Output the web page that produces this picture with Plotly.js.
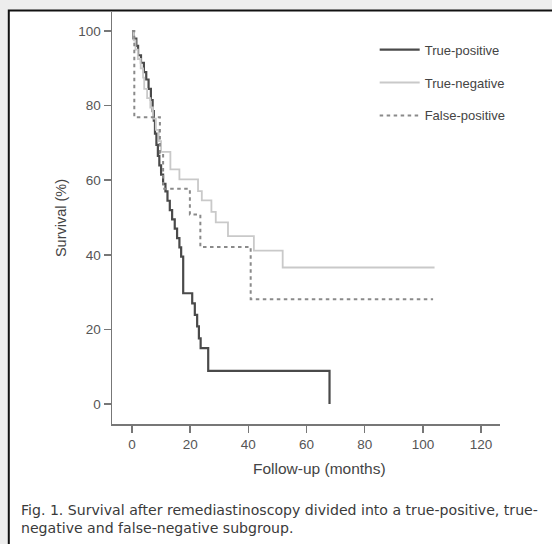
<!DOCTYPE html>
<html>
<head>
<meta charset="utf-8">
<script src="https://cdn.plot.ly/plotly-3.0.1.min.js"></script>
<style>
  html, body { margin: 0; padding: 0; background: #ededed; }
  #chart { width: 552px; height: 544px; }
</style>
</head>
<body>
<div id="chart"></div>
<script>
// ---- Data ----
const seriesNames = ["True-positive", "True-negative", "False-positive"];

// True-positive
const tpMonths = [0, 0.5, 1.5, 2.1, 3.1, 4.1, 4.9, 5.7, 6.5, 7.1, 7.5, 7.9, 8.4, 8.9, 9.4, 10.0, 10.7, 11.5, 12.2, 13.0, 13.8, 14.7, 15.5, 16.3, 16.9, 17.6, 20.7, 21.6, 22.4, 23.0, 23.6, 26.2, 67.9];
const tpSurv   = [100, 98, 96, 93.5, 91.5, 89, 87, 84.5, 81.5, 78.5, 76, 72.5, 69.5, 66.5, 64, 61.5, 59, 57, 54.5, 52, 49.5, 47, 44.5, 42, 39.5, 29.7, 27.0, 23.9, 20.8, 17.6, 15.0, 8.9, 0];

// True-negative
const tnMonths = [0, 0.6, 1.2, 2.0, 3.0, 3.8, 4.2, 5.2, 6.3, 7.2, 8.2, 9.2, 10.0, 13.2, 16.3, 22.7, 24.0, 27.3, 28.8, 33.0, 41.9, 51.8, 104];
const tnSurv   = [100, 97.5, 95, 92.5, 90, 87.5, 84.5, 82, 79.5, 76.5, 73.5, 70.5, 67.6, 62.9, 60.2, 57.1, 54.6, 51.5, 48.7, 45.0, 41.1, 36.6, 36.6];

// False-positive
const fpMonths = [0, 0.8, 9.6, 10.7, 19.9, 23.5, 40.8, 103.5];
const fpSurv   = [100, 76.9, 67.3, 57.7, 50.8, 42.1, 28.1, 28.1];

const xTicks = [0, 20, 40, 60, 80, 100, 120];
const yTicks = [0, 20, 40, 60, 80, 100];

const xTitle = "Follow-up (months)";
const yTitle = "Survival (%)";
const caption = "Fig. 1. Survival after remediastinoscopy divided into a true-positive, true-<br>negative and false-negative subgroup.";

// ---- Traces ----
const traces = [
  { x: tpMonths, y: tpSurv, name: seriesNames[0], legendgroup: "a", mode: "lines",
    line: { shape: "hv", color: "#4a4a4a", width: 2.2 } },
  { x: tnMonths, y: tnSurv, name: seriesNames[1], legendgroup: "b", mode: "lines",
    line: { shape: "hv", color: "#c9c9c9", width: 1.8 } },
  { x: fpMonths, y: fpSurv, name: seriesNames[2], legendgroup: "c", mode: "lines",
    line: { shape: "hv", color: "#8a8a8a", width: 2, dash: "3.5px,3.5px" } }
];

const axisFont = { family: "Liberation Sans, Arial, sans-serif", size: 13.5, color: "#555" };

const layout = {
  width: 552, height: 544,
  margin: { l: 112, r: 52, t: 12, b: 120 },
  paper_bgcolor: "#ededed",
  plot_bgcolor: "rgba(0,0,0,0)",
  showlegend: true,
  legend: {
    x: 0.677, y: 0.945, xanchor: "left", yanchor: "top",
    bgcolor: "rgba(0,0,0,0)", borderwidth: 0,
    font: { family: "Liberation Sans, Arial, sans-serif", size: 13, color: "#444" },
    traceorder: "grouped", tracegroupgap: 13, itemwidth: 40
  },
  xaxis: {
    range: [-6.87, 126.5], tickvals: xTicks, ticks: "outside", ticklen: 7, tickwidth: 1.5,
    tickcolor: "#777", showline: true, linecolor: "#777", linewidth: 1.5,
    showgrid: false, zeroline: false, tickfont: axisFont, fixedrange: true
  },
  yaxis: {
    range: [-5.36, 105.1], tickvals: yTicks, ticks: "outside", ticklen: 7, tickwidth: 1.5,
    tickcolor: "#777", showline: true, linecolor: "#777", linewidth: 1.5,
    showgrid: false, zeroline: false, tickfont: axisFont, fixedrange: true,
    title: { text: yTitle, standoff: 8, font: { family: "Liberation Sans, Arial, sans-serif", size: 14.5, color: "#444" } }
  },
  shapes: [
    { type: "rect", xref: "paper", yref: "paper", x0: -0.266, x1: 2, y0: -1, y1: 1.0034,
      line: { color: "#111", width: 2 }, fillcolor: "#ffffff", layer: "below" }
  ],
  annotations: [
    { text: xTitle, xref: "paper", yref: "paper", x: 0.536, y: -0.109, xanchor: "center", yanchor: "middle",
      showarrow: false, font: { family: "Liberation Sans, Arial, sans-serif", size: 15.5, color: "#444" } },
    { text: caption, xref: "paper", yref: "paper", x: -0.2387, y: -0.2306, xanchor: "left", yanchor: "middle",
      align: "left", showarrow: false,
      font: { family: "DejaVu Sans, sans-serif", size: 14.1, color: "#3a3a3a" } }
  ]
};

Plotly.newPlot("chart", traces, layout, { staticPlot: true, displayModeBar: false });
</script>
</body>
</html>
